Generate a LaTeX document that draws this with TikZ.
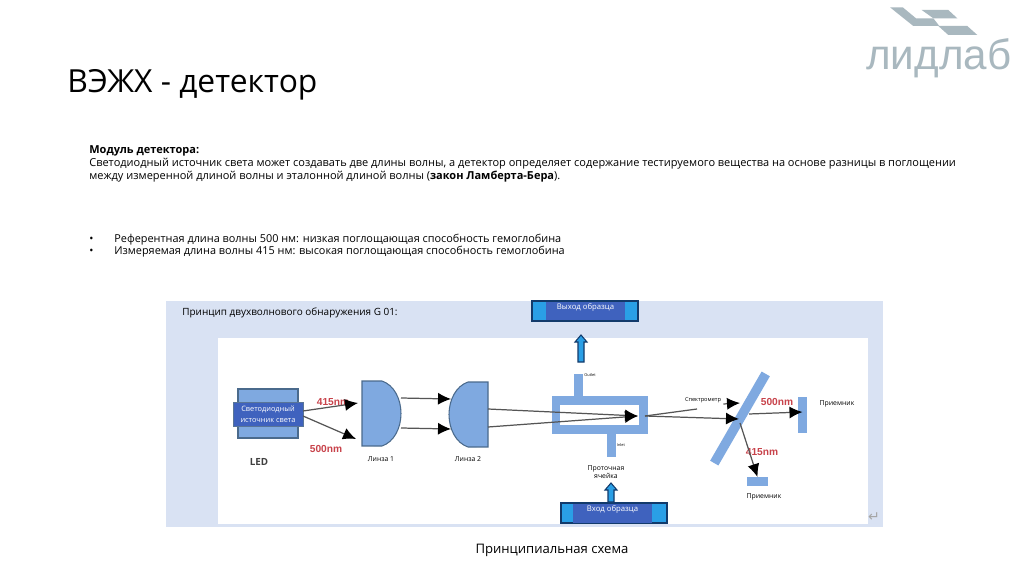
\documentclass[tikz,border=0pt]{standalone}
\usepackage{xcolor}
\usepackage{fontspec}
\setmainfont{Open Sans}
\newfontfamily\logofont{Liberation Sans}
\usepackage{tikz}
\usetikzlibrary{calc,arrows.meta}
\definecolor{LLPanel}{HTML}{D9E2F3}
\definecolor{LLBlue}{HTML}{7FA9E0}
\definecolor{LLDark}{HTML}{3F62BE}
\definecolor{LLSky}{HTML}{2A9FE6}
\definecolor{LLNavy}{HTML}{123A6B}
\definecolor{LLEdge}{HTML}{4A6A8C}
\definecolor{LLRed}{HTML}{C8434B}
\definecolor{LLLogo}{HTML}{A9B8BF}
\definecolor{LLRay}{HTML}{555555}
\tikzset{
  partbox/.style={fill=LLBlue,minimum width=#1,inner sep=0pt,outer sep=0pt},
  lenspot/.style={minimum width=0.78cm,minimum height=1.30cm,inner sep=0pt,outer sep=0pt},
  portbox/.style={fill=LLSky,draw=LLNavy,line width=0.6pt,minimum width=2.12cm,minimum height=0.40cm,inner sep=0pt,outer sep=0pt},
  portname/.style={fill=LLDark,minimum width=1.58cm,minimum height=0.38cm,inner sep=0pt,text=white,font=\fontsize{4.4}{6}\selectfont,text depth=0.14cm,text height=0.08cm},
  flowmark/.style={fill=LLSky,draw=LLNavy,line width=0.6pt,line join=miter},
  ray/.style={draw=LLRay,line width=0.7pt,-{Latex[length=0.26cm,width=0.24cm,black]}},
  wave/.style={text=LLRed,inner sep=0pt,font=\logofont\fontsize{5.8}{7}\selectfont\bfseries},
  tag/.style={font=\fontsize{3.9}{5}\selectfont,align=center,inner sep=0pt},
  tiny/.style={font=\fontsize{2.2}{3}\selectfont,inner sep=0pt},
  body/.style={anchor=base west,inner sep=0pt,font=\fontsize{6.26}{8}\selectfont}
}
\begin{document}
\begin{tikzpicture}[x=0.02cm,y=-0.02cm]
\path[use as bounding box] (0,0) rectangle (1024,574);
\fill[white] (0,0) rectangle (1024,574);
% logo
\fill[LLLogo] (890,7.3) -- (902.7,7.3) -- (916,18.3) -- (933.3,18.3) -- (939.3,26) -- (913.3,26) -- cycle;
\fill[LLLogo] (921.7,10) -- (948.3,10) -- (957.3,18.3) -- (933.3,18.3) -- cycle;
\fill[LLLogo] (938.3,26) -- (967.3,26) -- (977.3,35) -- (948.3,35) -- cycle;
\node[text=LLLogo,inner sep=0pt,anchor=base west,font=\logofont\fontsize{24}{26}\selectfont] (logotext) at (866,70) {лидлаб};
% header
\node[anchor=base west,inner sep=0pt,font=\fontsize{18.1}{20}\selectfont] (title) at (67,93) {ВЭЖХ - детектор};
\node[body] (headline) at (89,154) {\bfseries Модуль детектора:};
\node[body] (lineone) at (89,167) {Светодиодный источник света может создавать две длины волны, а детектор определяет содержание тестируемого вещества на основе разницы в поглощении};
\node[body] (linetwo) at (89,180) {между измеренной длиной волны и эталонной длиной волны (\textbf{закон Ламберта-Бера}).};
\node[body] (dotone) at (89,242) {•};
\node[body] (itemone) at (114,242) {\fontsize{6.2}{8}\selectfont Референтная длина волны 500 нм: низкая поглощающая способность гемоглобина};
\node[body] (dottwo) at (89,255) {•};
\node[body] (itemtwo) at (114,255) {\fontsize{6.2}{8}\selectfont Измеряемая длина волны 415 нм: высокая поглощающая способность гемоглобина};
% panel
\fill[LLPanel] (166,301) rectangle (883,527);
\fill[white] (218,338) rectangle (868,524);
\node[body,font=\fontsize{5.67}{7}\selectfont] (paneltitle) at (182,315) {Принцип двухволнового обнаружения G 01:};
\node[text=gray!70,inner sep=0pt,font=\fontsize{8}{9}\selectfont] (returnmark) at (874,517) {\fontspec{DejaVu Sans}↵};
\node[inner sep=0pt,font=\fontsize{7.45}{9}\selectfont] (caption) at (552,550) {Принципиальная схема};
% LED
\node[fill=LLBlue,draw=LLEdge,line width=0.6pt,minimum width=1.20cm,minimum height=0.98cm,inner sep=0pt,outer sep=0pt] (ledbody) at (268,413.5) {};
\node[fill=LLDark,draw=LLNavy!70,line width=0.4pt,minimum width=1.40cm,minimum height=0.48cm,inner sep=0pt,outer sep=0pt,text=white,align=center,font=\fontsize{4.2}{6}\selectfont] (ledlabel) at (268,414) {Светодиодный\\источник света};
\node[font=\fontsize{5.6}{7}\selectfont\bfseries,inner sep=0pt,text=black!75] (ledname) at (259,462) {LED};
% lenses
\node[lenspot] (lensA) at (381.5,413.5) {};
\node[lenspot] (lensB) at (468.5,414.5) {};
\draw[fill=LLBlue,draw=LLEdge,line width=0.6pt] (lensA.north west) -- (382,381) .. controls (394,385) and (401,399) .. (lensA.east) .. controls (401,428) and (394,442) .. (382,446) -- (lensA.south west) -- cycle;
\draw[fill=LLBlue,draw=LLEdge,line width=0.6pt] (lensB.north east) -- (468,382) .. controls (456,386) and (449,400) .. (lensB.west) .. controls (449,429) and (456,443) .. (468,447) -- (lensB.south east) -- cycle;
\node[tag] (lensAname) at (381,459) {Линза 1};
\node[tag] (lensBname) at (468,459) {Линза 2};
\node[wave] (waveA) at (333,402) {415nm};
\node[wave] (waveB) at (326,449) {500nm};
% flow cell
\node[partbox=0.18cm,minimum height=0.46cm] (cellout) at (578.5,385) {};
\node[partbox=0.18cm,minimum height=0.46cm] (cellin) at (611.5,445.5) {};
\node[partbox=1.92cm,minimum height=0.76cm] (cell) at (600,415) {};
\node[fill=white,minimum width=1.58cm,minimum height=0.40cm,inner sep=0pt] (cellgap) at (599.5,415) {};
\node[tag] (cellname) at (606,472) {Проточная\\ячейка};
\node[tiny] (outname) at (590,375) {Outlet};
\node[tiny] (inname) at (621,445) {Inlet};
% mirror and receivers
\node[partbox=2.06cm,minimum height=0.19cm,rotate=60] (mirror) at (740,418.5) {};
\node[partbox=0.18cm,minimum height=0.72cm] (recvA) at (802.5,415) {};
\node[partbox=0.42cm,minimum height=0.18cm] (recvB) at (757.5,481.5) {};
\node[tag] (recvAname) at (837,404) {Приемник};
\node[tag] (recvBname) at (764,497) {Приемник};
\node[wave] (waveC) at (777,402) {500nm};
\node[wave] (waveD) at (762,452) {415nm};
\node[tag,font=\fontsize{3.2}{5}\selectfont] (spectr) at (703,400) {Спектрометр};
\coordinate (spectrend) at (697,409);
\coordinate (spectrtip) at (740,403);
\coordinate (celltip) at (638,416);
\coordinate (cellexit) at (645,416);
\coordinate (mirrorhit) at (739,419);
% sample ports
\node[portbox] (portout) at (585,311) {};
\node[portname] (portoutname) at (585.5,311) {Выход образца};
\node[portbox] (portin) at (614,513) {};
\node[portname] (portinname) at (612.5,513) {Вход образца};
\draw[flowmark] (581,335) -- (587,342) -- (584,342) -- (584,362) -- (578,362) -- (578,342) -- (575,342) -- cycle;
\draw[flowmark] (611,483) -- (617,490) -- (614,490) -- (614,502) -- (608,502) -- (608,490) -- (605,490) -- cycle;
% rays
\draw[ray] ($(ledlabel.east)+(0,-3)$) -- ($(lensA.west)+(-4,-10.5)$);
\draw[ray] ($(ledlabel.east)+(0,2)$) -- ($(lensA.west)+(-6,25.5)$);
\draw[ray] ($(lensA.east)+(0,-15.5)$) -- ($(lensB.west)+(2,-15.5)$);
\draw[ray] ($(lensA.east)+(0,14.5)$) -- ($(lensB.west)+(2,14.5)$);
\draw[ray] ($(lensB.east)+(0,-5.5)$) -- (celltip);
\draw[ray] ($(lensB.east)+(0,12.5)$) -- (celltip);
\draw[LLRay,line width=0.7pt] (cellexit) -- (spectrend);
\draw[ray] ($(spectr.east)+(2,4)$) -- (spectrtip);
\draw[ray] (cellexit) -- (mirrorhit);
\draw[ray] ($(mirror.center)+(9,-4.5)$) -- ($(recvA.center)+(0,-3)$);
\draw[ray] ($(mirror.center)+(0,4.5)$) -- (recvB.north);
\end{tikzpicture}
\end{document}
